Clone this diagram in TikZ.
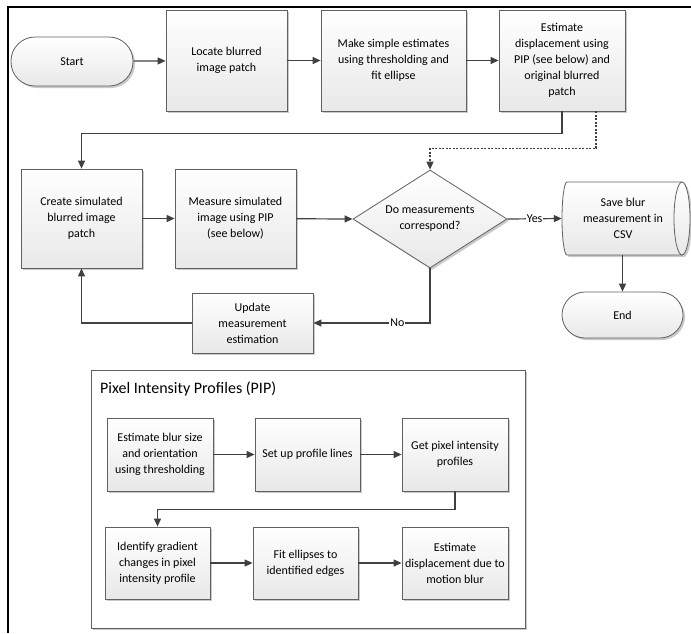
\documentclass[tikz,border=0pt]{standalone}
\usepackage{fontspec}
\setmainfont{Carlito}
\usetikzlibrary{shapes.geometric,shadows,arrows.meta,calc}
\begin{document}
\begin{tikzpicture}[x=1pt,y=-1pt,
  font=\fontsize{12}{16}\selectfont,
  shade/.style={top color=white,bottom color=black!9},
  shd/.style={drop shadow={shadow xshift=2pt,shadow yshift=-2pt,fill=black!35,opacity=0.6}},
  procbox/.style={draw=black!62,line width=0.8pt,shade,shd,align=center,inner sep=2pt},
  termbox/.style={procbox,rounded corners=23pt},
  arr/.style={draw=black!75,line width=1.2pt,-{Triangle[length=8pt,width=7pt]}},
  lbl/.style={fill=white,inner sep=1pt,font=\fontsize{12}{14}\selectfont}]
\useasboundingbox (0,0) rectangle (691,633);
% frame
\draw[line width=2.5pt] (8,633) -- (8,7) -- (691,7);
% top row
\node[termbox,minimum width=122pt,minimum height=49pt,rounded corners=24pt] (start) at (72,61.5) {Start};
\node[procbox,minimum width=121pt,minimum height=101pt] (locate) at (226.5,60.5) {Locate blurred\\image patch};
\node[procbox,minimum width=145pt,minimum height=101pt] (make) at (393.5,60.5) {Make simple estimates\\using thresholding and\\fit ellipse};
\node[procbox,minimum width=126pt,minimum height=101pt] (est) at (562,60.5) {Estimate\\displacement using\\PIP (see below) and\\original blurred\\patch};
% second row
\node[procbox,minimum width=121pt,minimum height=99pt] (create) at (81.5,218.5) {Create simulated\\blurred image\\patch};
\node[procbox,minimum width=121pt,minimum height=99pt] (measure) at (235.5,218.5) {Measure simulated\\image using PIP\\(see below)};
\node[diamond,draw=black!62,line width=0.8pt,shade,shd,align=center,inner sep=0pt,aspect=1.57,minimum width=154pt,minimum height=98pt] (dec) at (430,219) {Do measurements\\correspond?};
% stored-data cylinder
\path[draw=black!62,line width=0.8pt,shade,shd]
  (567,182) -- (682,182) arc[start angle=90,end angle=-90,x radius=8pt,y radius=36.5pt]
  -- (567,255) arc[start angle=270,end angle=90,x radius=5pt,y radius=36.5pt] -- cycle;
\draw[black!62,line width=0.8pt] (682,182) arc[start angle=90,end angle=270,x radius=8pt,y radius=36.5pt];
\node[align=center,inner sep=0pt,minimum width=128pt,minimum height=73pt] (save) at (626,218.5) {\hspace*{-6pt}Save blur\\\hspace*{-6pt}measurement in\\\hspace*{-6pt}CSV};
\node[termbox,minimum width=121pt,minimum height=46pt] (endn) at (622.5,315) {End};
\node[procbox,minimum width=121pt,minimum height=60pt] (update) at (252.5,323) {Update\\measurement\\estimation};
% PIP container
\node[draw=black!62,line width=0.8pt,fill=white,shd,minimum width=434pt,minimum height=258pt] (pip) at (308,499) {};
\node[anchor=west,inner sep=0pt,font=\fontsize{16}{18}\selectfont] (piptitle) at (100,389) {Pixel Intensity Profiles (PIP)};
\node[procbox,minimum width=106pt,minimum height=73pt] (p1) at (160,454.5) {Estimate blur size\\and orientation\\using thresholding};
\node[procbox,minimum width=105pt,minimum height=73pt] (p2) at (307.5,454.5) {Set up profile lines};
\node[procbox,minimum width=106pt,minimum height=73pt] (p3) at (455,454.5) {Get pixel intensity\\profiles};
\node[procbox,minimum width=105pt,minimum height=72pt] (p4) at (157.5,563) {Identify gradient\\changes in pixel\\intensity profile};
\node[procbox,minimum width=105pt,minimum height=72pt] (p5) at (305.5,563) {Fit ellipses to\\identified edges};
\node[procbox,minimum width=106pt,minimum height=72pt] (p6) at (455,563) {Estimate\\displacement due to\\motion blur};
% connectors
\draw[arr] (start) -- (locate);
\draw[arr] (locate) -- (make);
\draw[arr] (make) -- (est);
\draw[arr] (est.south) -- ++(0,22) -| (create.north);
\draw[arr,dash pattern=on 2pt off 1.5pt] ($(est.south)+(34,0)$) -- ++(0,37) -| (dec.north);
\draw[arr] (create) -- (measure);
\draw[arr] (measure) -- (dec.west);
\draw[arr] (dec.east) -- node[lbl]{Yes} (save.west);
\draw[arr] (endn.north |- save.south) -- (endn.north);
\draw[arr] (dec.south) |- node[lbl,pos=0.64]{No} (update.east);
\draw[arr] (update.west) -| (create.south);
\draw[arr] (p1) -- (p2);
\draw[arr] (p2) -- (p3);
\draw[arr] (p3.south) -- ++(0,18) -| (p4.north);
\draw[arr] (p4) -- (p5);
\draw[arr] (p5) -- (p6);
\end{tikzpicture}
\end{document}
